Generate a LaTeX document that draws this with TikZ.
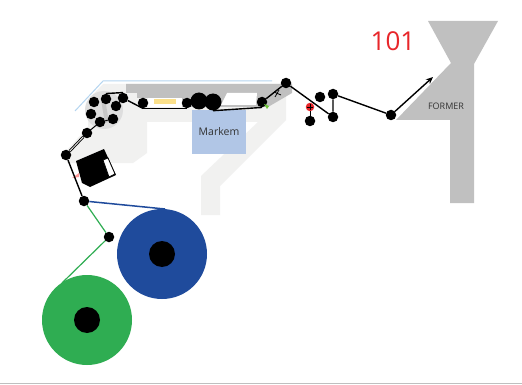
\documentclass[tikz,border=0pt]{standalone}
\usepackage{fontspec}
\usetikzlibrary{arrows.meta}
\setmainfont{Open Sans}
\definecolor{lightpanel}{HTML}{F1F1F0}
\definecolor{darkpanel}{HTML}{C0C0C0}
\definecolor{blobgray}{HTML}{DEDEDE}
\definecolor{markembox}{HTML}{B1C6E6}
\definecolor{skyline}{HTML}{B5D5F0}
\definecolor{bluereel}{HTML}{1F4B9C}
\definecolor{greenreel}{HTML}{2FAD52}
\definecolor{yellowbar}{HTML}{FBE08A}
\definecolor{redtext}{HTML}{E8262A}
\tikzset{
  roller/.style={circle,fill=black,inner sep=0pt,minimum size=10.5pt},
  bigroller/.style={circle,fill=black,inner sep=0pt,minimum size=17pt},
  hub/.style={circle,fill=black,inner sep=0pt,minimum size=26pt},
  reel/.style={circle,inner sep=0pt,minimum size=90pt},
  web/.style={draw=black,line width=1.4pt},
  label/.style={inner sep=0pt,text=black!80}
}
\begin{document}
\begin{tikzpicture}[x=1pt,y=-1pt]
\useasboundingbox (0,0) rectangle (522,385);
\fill[white] (0,0) rectangle (522,385);
\draw[black!25,line width=0.7pt] (0,383.5) -- (522,383.5);
% light panels
\fill[lightpanel] (103,84) -- (286,84) -- (286,120) -- (220,186) -- (220,215) -- (201,215) -- (201,176) -- (258,122) -- (147,122) -- (147,153) -- (133,163) -- (67,163) -- (67,150) -- (88,127) -- (88,100) -- cycle;
% dark panels
\fill[darkpanel] (126,84) -- (292,84) -- (292,93) -- (268,107) -- (182,107) -- (182,98) -- (137,98) -- (137,93) -- (126,93) -- cycle;
\fill[white] (221,105) -- (227,93) -- (257,93) -- (256,105) -- cycle;
\fill[white] (148,98) rectangle (182,107);
\fill[yellowbar] (154,99) rectangle (176,104);
\draw[black!30,line width=0.8pt,dash pattern=on 1pt off 1pt] (148,108.5) -- (182,108.5);
\fill[blobgray] (104,110) circle[radius=19];
\fill[black!22] (101,100) -- (105,99) -- (109,122) -- (105,123) -- cycle;
% sky line
\draw[skyline,line width=1pt] (75,111) -- (103,81) -- (272,81);
% markem
\node[fill=markembox,minimum width=54pt,minimum height=44pt,inner sep=0pt,font=\fontsize{10.5}{10.5}\selectfont,text=black!80] (markem) at (219,132) {Markem};
% former
\fill[darkpanel] (428,21) -- (498,21) -- (474,64) -- (474,203) -- (450,203) -- (450,120) -- (396,120) -- (451,63) -- cycle;
\node[label,font=\fontsize{9}{9}\selectfont] (former) at (446,106) {FORMER};
\node[inner sep=0pt,text=redtext,font=\fontsize{26}{26}\selectfont] (num) at (393,41) {101};
% reels
\node[reel,fill=bluereel] (bluer) at (162,254) {};
\node[hub] (bluehub) at (162,254) {};
\node[reel,fill=greenreel] (greenr) at (87,320) {};
\node[hub] (greenhub) at (87,320) {};
% rollers
\foreach \n/\x/\y in {a/94/102,b/106/99,c/123/98,d/116/106,e/91/114,f/113/119,g/100/122,h/87/133,i/66/155,j/143/103,k/187/103,n/262/102,o/286/83,p/320/97,q/333/94,r/333/117,s/310/121,t/391/115,u/84/201,v/109/237}
  \node[roller] (\n) at (\x,\y) {};
\node[bigroller] (l) at (199,101) {};
\node[bigroller] (m) at (213,102) {};
% red sensor
\node[circle,fill=redtext,inner sep=0pt,minimum size=8.5pt] (red) at (310,107) {};
\draw[black,line width=.8pt] (307,107) -- (313,107) (310,104) -- (310,110);
\draw[black,line width=.8pt] (red) -- (s);
% green and blue webs
\draw[bluereel,line width=1.5pt] (u) -- (165,209);
\draw[greenreel,line width=1.2pt] (u) -- (v) -- (62,283);
% device
\fill[black] (76,161) -- (104,149) -- (116,175) -- (90,187) -- (82,183) -- cycle;
\draw[black,line width=.8pt,fill=white] (103,160) -- (108,158) -- (115,174) -- (109,177) -- cycle;
\fill[red!40] (72,178) -- (79,173) -- (79,177) -- cycle;
% web path
\draw[web] (u) -- (i);
\draw[draw=black,line width=.9pt,double=lightpanel,double distance=.8pt] (i) -- (h);
\draw[web,line width=1pt] (h) -- (g) -- (f);
\draw[web] (b.north) -- (c.north);
\draw[web] (c) -- (j.south);
\draw[web,line width=.8pt] (j.south) -- (k.south);
\draw[web] (m.south) -- (n.south);
\draw[web] (n) -- (o);
\draw[web] (o) -- (r) -- (q) -- (t);
\draw[web,-{Stealth[length=7pt,width=6pt]}] (t) -- (433,77);
% x mark and green tip
\fill[greenreel!70!yellow] (264,104) -- (269,106) -- (267,109) -- cycle;
\draw[black,line width=.8pt] (274,92) -- (281,95) (275,97) -- (279,90);
\end{tikzpicture}
\end{document}
